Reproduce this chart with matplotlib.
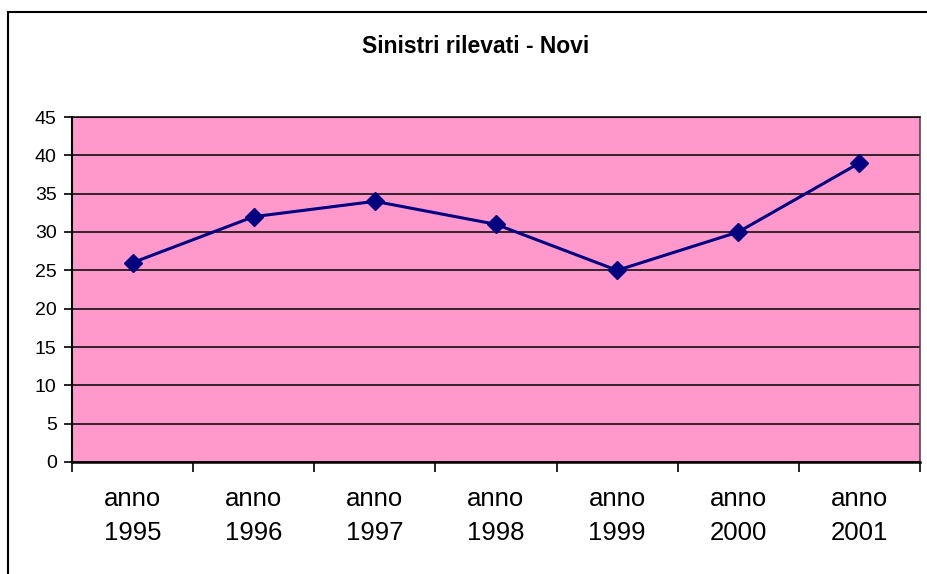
import matplotlib.pyplot as plt
from matplotlib.patches import Rectangle

plt.rcParams['font.family'] = ['Liberation Sans', 'DejaVu Sans']

# data
anni = ['anno\n1995', 'anno\n1996', 'anno\n1997', 'anno\n1998',
        'anno\n1999', 'anno\n2000', 'anno\n2001']
sinistri = [26, 32, 34, 31, 25, 30, 39]
y_ticks = [0, 5, 10, 15, 20, 25, 30, 35, 40, 45]

fig = plt.figure(figsize=(9.27, 5.74), dpi=100)

# outer chart border (cut off on the right and bottom like the original)
fig.patches.append(Rectangle((8 / 927, -0.1), 1.2, 1 - 12 / 574 + 0.1,
                             transform=fig.transFigure, fill=False,
                             edgecolor='black', linewidth=1.5))

ax = fig.add_axes([72 / 927, 1 - 462 / 574, (920 - 72) / 927, (462 - 117) / 574])
ax.set_facecolor('#FF99CC')

x = list(range(len(anni)))
ax.plot(x, sinistri, color='#000080', linewidth=2.2, marker='D',
        markersize=9, markeredgecolor='#000080', zorder=5, clip_on=False)

ax.set_xlim(-0.5, len(anni) - 0.5)
ax.set_ylim(0, 45)
ax.set_yticks(y_ticks)
ax.yaxis.grid(True, color='black', linewidth=1.1)
ax.set_axisbelow(True)

# category ticks sit between the labels
ax.set_xticks([i - 0.5 for i in range(len(anni) + 1)])
ax.set_xticklabels([])
ax.set_xticks(x, minor=True)
ax.set_xticklabels(anni, minor=True, fontsize=18.5, linespacing=1.5)
ax.tick_params(axis='x', which='minor', length=0, pad=18)
ax.tick_params(axis='x', which='major', length=7, width=1.2, direction='out')
ax.tick_params(axis='y', length=6, width=1.2, labelsize=14, pad=5)

ax.spines['left'].set_linewidth(1.5)
ax.spines['bottom'].set_linewidth(1.8)
ax.spines['top'].set_linewidth(1.1)
ax.spines['right'].set_color('#404040')
ax.spines['right'].set_linewidth(1.1)

fig.text(475.5 / 927, 1 - 53 / 574, 'Sinistri rilevati - Novi', ha='center',
         va='baseline', fontsize=16.5, fontweight='bold')

fig.savefig('out.png', dpi=100)
